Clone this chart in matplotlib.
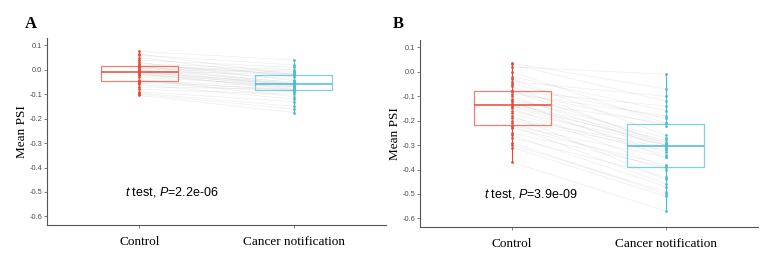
import numpy as np
import matplotlib
matplotlib.use("Agg")
import matplotlib.pyplot as plt

# paired mean PSI values (one entry per event, same order in both lists)
ctrl_a = [0.075, 0.065, 0.06, 0.05, 0.04, 0.03, 0.025, 0.02, 0.015, 0.015, 0.015, 0.01,
          0.01, 0.005, 0.0, 0.0, -0.005, -0.01, -0.01, -0.01, -0.015, -0.02, -0.02, -0.03,
          -0.04, -0.045, -0.045, -0.05, -0.055, -0.06, -0.07, -0.08, -0.09, -0.095, -0.10, -0.105]
canc_a = [0.04, -0.02, 0.02, -0.03, 0.01, -0.045, 0.0, -0.02, -0.005, -0.055, -0.04, -0.01,
          -0.06, -0.015, -0.05, -0.065, -0.02, -0.06, -0.07, -0.055, -0.08, -0.06, -0.075, -0.065,
          -0.11, -0.07, -0.085, -0.08, -0.09, -0.12, -0.08, -0.10, -0.13, -0.15, -0.16, -0.175]

ctrl_b = [0.035, 0.03, 0.02, 0.0, -0.02, -0.03, -0.04, -0.05, -0.06, -0.08, -0.08, -0.08,
          -0.09, -0.10, -0.11, -0.12, -0.12, -0.13, -0.13, -0.14, -0.14, -0.15, -0.16, -0.17,
          -0.18, -0.19, -0.20, -0.21, -0.22, -0.22, -0.23, -0.25, -0.26, -0.27, -0.29, -0.30,
          -0.31, -0.37]
canc_b = [-0.07, -0.12, -0.01, -0.21, -0.16, -0.26, -0.10, -0.19, -0.30, -0.14, -0.22, -0.29,
          -0.18, -0.31, -0.27, -0.35, -0.21, -0.28, -0.30, -0.33, -0.29, -0.39, -0.30, -0.34,
          -0.44, -0.31, -0.32, -0.40, -0.35, -0.46, -0.38, -0.39, -0.47, -0.43, -0.50, -0.49,
          -0.51, -0.57]

groups = ["Control", "Cancer notification"]
p_text = [r"$\mathit{t}$ test, $\mathit{P}$=2.2e-06", r"$\mathit{t}$ test, $\mathit{P}$=3.9e-09"]
yticks = [0.1, 0.0, -0.1, -0.2, -0.3, -0.4, -0.5, -0.6]

red = "#E64B35"
blue = "#4DBBD5"

plt.rcParams["mathtext.fontset"] = "custom"
plt.rcParams["mathtext.rm"] = "Liberation Sans"
plt.rcParams["mathtext.it"] = "Liberation Sans:italic"

fig = plt.figure(figsize=(7.72, 2.62), dpi=100)
ax_a = fig.add_axes([47/772, 1-225/262, (386-47)/772, (225-38)/262])
ax_b = fig.add_axes([420/772, 1-227/262, (758-420)/772, (227-40)/262])


def panel(ax, ctrl, canc, label, txt_x):
    # paired lines
    for c, k in zip(ctrl, canc):
        ax.plot([1, 2], [c, k], color="#a8a8a8", lw=0.45, alpha=0.22, zorder=1)
    for pos, vals, col in [(1, ctrl, red), (2, canc, blue)]:
        bp = ax.boxplot([vals], positions=[pos], widths=0.5, whis=(0, 100),
                        showfliers=False, showcaps=False, patch_artist=True, zorder=2)
        for b in bp["boxes"]:
            b.set(facecolor="none", edgecolor=col, linewidth=0.9, alpha=0.7)
        for w in bp["whiskers"]:
            w.set(color=col, linewidth=0.8)
        for m in bp["medians"]:
            m.set(color=col, linewidth=1.3, alpha=0.85)
        ax.scatter([pos]*len(vals), vals, s=4, color=col, zorder=3, linewidths=0)
    ax.set_xlim(0.4, 2.6)
    ax.set_ylim(-0.635, 0.13)
    ax.set_xticks([1, 2])
    ax.set_xticklabels(groups, family="Liberation Serif", fontsize=9.5, color="black")
    ax.set_yticks(yticks)
    ax.set_yticklabels(["%.1f" % v for v in yticks], family="Liberation Sans",
                       fontsize=5.3, color="#4d4d4d")
    ax.tick_params(axis="y", length=2, width=0.5, color="#4d4d4d", pad=1.5)
    ax.tick_params(axis="x", length=2, width=0.5, color="#4d4d4d", pad=6)
    for s in ["top", "right"]:
        ax.spines[s].set_visible(False)
    for s in ["left", "bottom"]:
        ax.spines[s].set_color("#555555")
        ax.spines[s].set_linewidth(0.8)
    ax.set_ylabel("Mean PSI", family="Liberation Serif", fontsize=9.5, labelpad=1)
    ax.text(txt_x, -0.5, label, fontsize=9, family="Liberation Sans", ha="left", va="center")


panel(ax_a, ctrl_a, canc_a, p_text[0], 0.906)
panel(ax_b, ctrl_b, canc_b, p_text[1], 0.816)

fig.text(25/772, 1-24/262, "A", family="Liberation Serif", weight="bold", fontsize=12, va="center")
fig.text(393/772, 1-24/262, "B", family="Liberation Serif", weight="bold", fontsize=12, va="center")

fig.savefig("out.png", dpi=100)
